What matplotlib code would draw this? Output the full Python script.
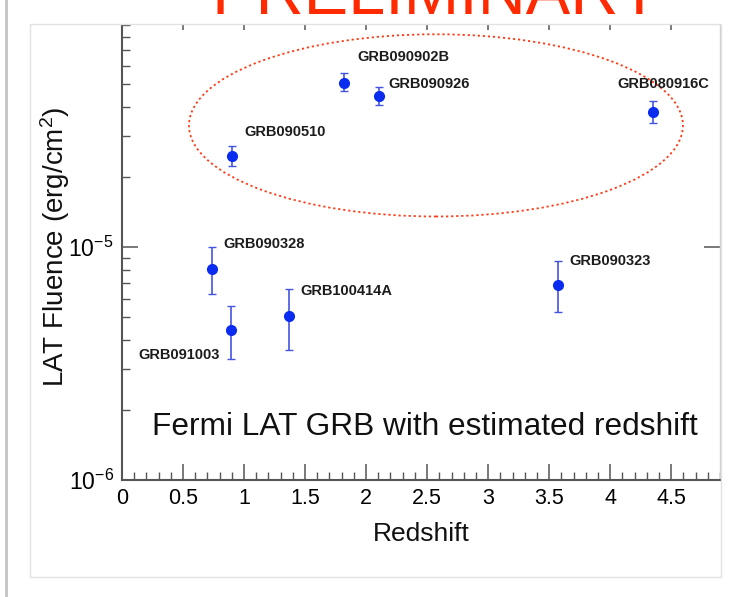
"""LAT fluence of Fermi GRBs with a measured redshift, log scale.

The bright bursts (fluence above ~2e-5 erg/cm^2) are ringed with a dotted
ellipse; the figure is a preliminary slide.
"""
import matplotlib
matplotlib.use("Agg")
import matplotlib.pyplot as plt
import numpy as np
from matplotlib.lines import Line2D
from matplotlib.patches import Ellipse, Rectangle
from matplotlib.ticker import (FuncFormatter, LogLocator, MultipleLocator,
                               NullFormatter)

W, H = 734, 597

grb_names = ["GRB080916C", "GRB090902B", "GRB090926", "GRB090510",
             "GRB090328", "GRB090323", "GRB100414A", "GRB091003"]
redshift = [4.35, 1.822, 2.106, 0.903, 0.736, 3.57, 1.368, 0.897]
fluence = [3.81e-5, 5.07e-5, 4.46e-5, 2.46e-5,
           8.05e-6, 6.87e-6, 5.07e-6, 4.40e-6]
fluence_lo = [3.42e-5, 4.69e-5, 4.07e-5, 2.23e-5,
              6.30e-6, 5.24e-6, 3.62e-6, 3.31e-6]
fluence_hi = [4.23e-5, 5.57e-5, 4.87e-5, 2.71e-5,
              9.97e-6, 8.71e-6, 6.62e-6, 5.58e-6]

# label placement relative to each point, in pixels
label_offsets = [(-36, 28), (13, 26), (9, 12), (12, 24),
                 (12, 25), (12, 24), (11, 25), (-93, -25)]

NARROW = ["Liberation Sans Narrow", "Liberation Sans", "DejaVu Sans"]
plt.rcParams["font.family"] = ["Liberation Sans", "DejaVu Sans"]
plt.rcParams["mathtext.fontset"] = "custom"
plt.rcParams["mathtext.rm"] = "Liberation Sans"
plt.rcParams["mathtext.it"] = "Liberation Sans:italic"


def decade_label(v, pos):
    return f"10$^{{{int(round(np.log10(v)))}}}$"


fig = plt.figure(figsize=(W / 100, H / 100), dpi=100)
ax = fig.add_axes([122 / W, 1 - 480 / H, 598 / W, 466 / H])
ax.set_yscale("log")
ax.set_xlim(0, 4.9)
ax.set_ylim(1e-6, 1e-4)

f = np.array(fluence)
yerr = [f - np.array(fluence_lo), np.array(fluence_hi) - f]
ax.errorbar(redshift, fluence, yerr=yerr, fmt="o", ms=7,
            color="#0a2cf0", ecolor="#4454e2", elinewidth=1.2,
            capsize=2.8, capthick=1.0, zorder=3)

for name, x, y, off in zip(grb_names, redshift, fluence, label_offsets):
    ax.annotate(name, (x, y), xytext=off, textcoords="offset pixels",
                ha="left", va="center", fontsize=10.5, fontweight="bold",
                color="#1c1c1c")

# bright-burst group
ax.add_patch(Ellipse((0.525, 0.761), 0.826, 0.391, transform=ax.transAxes,
                     fill=False, edgecolor="#ff3a14", linewidth=1.3,
                     linestyle=(0, (1.2, 1.6)), zorder=2))

ax.text(0.05, 0.114, "Fermi LAT GRB with estimated redshift",
        transform=ax.transAxes, fontsize=22.8, va="center", ha="left",
        color="#111111")

ax.xaxis.set_major_locator(MultipleLocator(0.5))
ax.xaxis.set_minor_locator(MultipleLocator(0.1))
ax.xaxis.set_major_formatter(FuncFormatter(lambda v, p: f"{v:g}"))
ax.yaxis.set_major_locator(LogLocator(base=10, numticks=10))
ax.yaxis.set_minor_locator(LogLocator(base=10, subs=np.arange(2, 10),
                                      numticks=10))
ax.yaxis.set_major_formatter(FuncFormatter(decade_label))
ax.yaxis.set_minor_formatter(NullFormatter())

ax.tick_params(which="both", direction="in", top=True, right=True,
               color="#555555")
ax.tick_params(which="major", length=11.5, width=1.1)
ax.tick_params(which="minor", length=6, width=1.0, right=False)
ax.tick_params(axis="x", which="major", labelsize=15.5, pad=6)
ax.tick_params(axis="y", which="major", labelsize=16.5, pad=6)
for lab in ax.get_xticklabels():
    lab.set_family(NARROW)
for lab in ax.get_yticklabels():
    lab.set_family(NARROW)

for side in ("left", "bottom", "top"):
    ax.spines[side].set_color("#555555")
    ax.spines[side].set_linewidth(1.5)
ax.spines["right"].set_color("#cfcfcf")
ax.spines["right"].set_linewidth(1.0)

ax.set_xlabel("Redshift", fontsize=19, family=NARROW, color="#111111")
ax.xaxis.set_label_coords(0.5, -0.09)
ax.set_ylabel("LAT Fluence (erg/cm$^2$)", fontsize=20, color="#111111")
ax.yaxis.set_label_coords(-0.084, 0.5)

# slide frame: top strip hides the top of the plot, red banner over it
fig.add_artist(Rectangle((0, 1 - 24 / H), 1, 24 / H, transform=fig.transFigure,
                         facecolor="white", edgecolor="none", zorder=5))
fig.add_artist(Rectangle((30 / W, 1 - 577 / H), 691 / W, 553 / H,
                         transform=fig.transFigure, fill=False,
                         edgecolor="#e2e2e2", linewidth=1.0, zorder=5))
fig.add_artist(Line2D([6 / W, 6 / W], [0, 1], transform=fig.transFigure,
                      color="#c4c4c4", linewidth=2.0, zorder=5))
fig.text(211 / W, 1 - 14 / H, "PRELIMINARY", color="#ff2a00", fontsize=48,
         ha="left", va="baseline", zorder=6)

fig.savefig("out.png", dpi=100)
